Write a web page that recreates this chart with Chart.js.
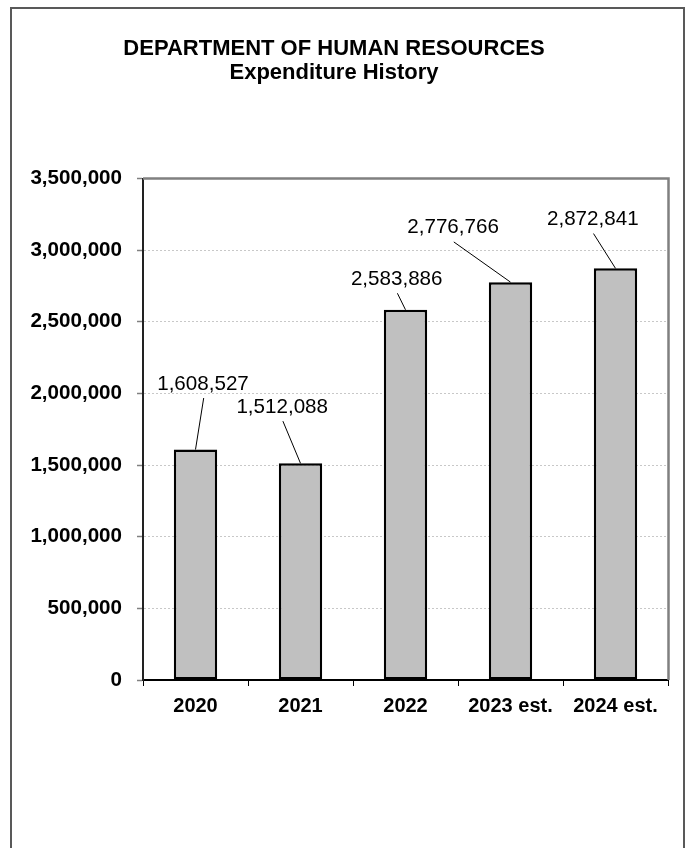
<!DOCTYPE html>
<html><head><meta charset="utf-8">
<style>html,body{margin:0;padding:0;background:#fff;}</style>
<script src="https://cdn.jsdelivr.net/npm/chart.js@4.4.0/dist/chart.umd.min.js"></script>
</head><body>
<canvas id="c" width="686" height="848"></canvas>
<script>
// ---- data ----
const categories = ['2020', '2021', '2022', '2023 est.', '2024 est.'];
const expenditures = [1608527, 1512088, 2583886, 2776766, 2872841];
const titleLines = ['DEPARTMENT OF HUMAN RESOURCES', 'Expenditure History'];
const yMin = 0;
const yMax = 3500000;
const yStep = 500000;

// ---- style: data-label placement relative to each bar top (px) ----
const labelOffsets = [[7.5, -60], [-18.3, -50.7], [-8.8, -25], [-57.4, -48.7], [-22.7, -43.3]];

const FONT = '"Liberation Sans", Arial, sans-serif';
const fmt = v => Number(v).toLocaleString('en-US');

const framePlugin = {
  id: 'frame',
  beforeDraw(chart) {
    const ctx = chart.ctx;
    ctx.save();
    ctx.fillStyle = '#fff';
    ctx.fillRect(0, 0, chart.width, chart.height);
    ctx.strokeStyle = '#595959';
    ctx.lineWidth = 2;
    ctx.beginPath();
    ctx.moveTo(11, chart.height + 5);
    ctx.lineTo(11, 8);
    ctx.lineTo(684, 8);
    ctx.lineTo(684, chart.height + 5);
    ctx.stroke();
    ctx.restore();
  }
};

const plotBorderPlugin = {
  id: 'plotBorder',
  beforeDatasetsDraw(chart) {
    const {ctx, chartArea: a} = chart;
    ctx.save();
    ctx.strokeStyle = '#808080';
    ctx.lineWidth = 2.5;
    ctx.beginPath();
    ctx.moveTo(a.left, a.top);
    ctx.lineTo(a.right + 0.5, a.top);
    ctx.lineTo(a.right + 0.5, a.bottom);
    ctx.stroke();
    ctx.restore();
  }
};

const labelPlugin = {
  id: 'valueLabels',
  afterDatasetsDraw(chart) {
    const ctx = chart.ctx;
    const meta = chart.getDatasetMeta(0);
    ctx.save();
    ctx.font = '20.6px ' + FONT;
    ctx.fillStyle = '#000';
    ctx.strokeStyle = '#000';
    ctx.lineWidth = 1;
    ctx.textAlign = 'center';
    ctx.textBaseline = 'alphabetic';
    meta.data.forEach((bar, i) => {
      const [dx, dy] = labelOffsets[i];
      const lx = bar.x + dx, ly = bar.y + dy;
      ctx.fillText(fmt(chart.data.datasets[0].data[i]), lx, ly);
      ctx.beginPath();
      ctx.moveTo(lx + 0.7, ly + 8.5);
      ctx.lineTo(bar.x, bar.y);
      ctx.stroke();
    });
    ctx.restore();
  }
};

new Chart(document.getElementById('c'), {
  type: 'bar',
  data: {
    labels: categories,
    datasets: [{
      data: expenditures,
      backgroundColor: '#c0c0c0',
      borderColor: '#000',
      borderWidth: 2.5,
      borderSkipped: false,
      categoryPercentage: 1,
      barPercentage: 0.413
    }]
  },
  options: {
    responsive: false,
    devicePixelRatio: 1,
    animation: false,
    layout: {padding: {left: 0, right: 18, top: 0, bottom: 122}},
    plugins: {
      legend: {display: false},
      tooltip: {enabled: false},
      title: {
        display: true,
        text: titleLines,
        color: '#000',
        font: {family: FONT, size: 22, weight: 'bold', lineHeight: 24 / 22},
        padding: {top: 37, bottom: 93.5}
      }
    },
    scales: {
      x: {
        offset: true,
        grid: {display: true, drawOnChartArea: false, drawTicks: true, offset: true, tickLength: 6, tickColor: '#000', tickWidth: 1},
        border: {display: true, color: '#000', width: 2},
        ticks: {color: '#000', padding: 8, font: {family: FONT, size: 20, weight: 'bold'}, maxRotation: 0, autoSkip: false}
      },
      y: {
        min: yMin,
        max: yMax,
        afterFit(scale) { scale.width = 143; },
        grid: {color: '#c8c8c8', lineWidth: 1, tickLength: 6, tickColor: '#808080', tickWidth: 1.5},
        border: {display: true, color: '#222', width: 2, dash: [2, 2]},
        ticks: {stepSize: yStep, color: '#000', padding: 15, font: {family: FONT, size: 20.6, weight: 'bold'}, callback: v => fmt(v)}
      }
    }
  },
  plugins: [framePlugin, plotBorderPlugin, labelPlugin]
});
</script>
</body></html>
